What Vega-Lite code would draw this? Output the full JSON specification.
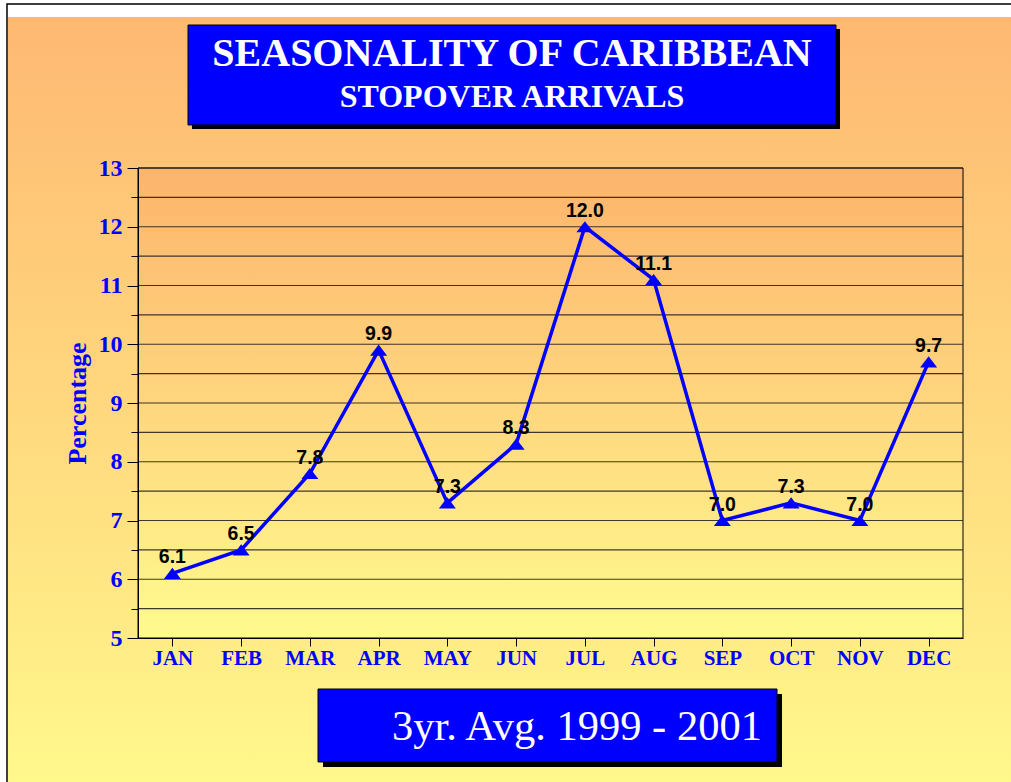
{
  "$schema": "https://vega.github.io/schema/vega-lite/v6.json",
  "width": 825,
  "height": 470,
  "autosize": {"type": "none"},
  "padding": {"left": 138, "top": 168, "right": 48, "bottom": 144},
  "background": "white",
  "config": {"view": {"stroke": null}},
  "datasets": {
    "arrivals": [
      {"month": "JAN", "value": 6.1},
      {"month": "FEB", "value": 6.5},
      {"month": "MAR", "value": 7.8},
      {"month": "APR", "value": 9.9},
      {"month": "MAY", "value": 7.3},
      {"month": "JUN", "value": 8.3},
      {"month": "JUL", "value": 12.0},
      {"month": "AUG", "value": 11.1},
      {"month": "SEP", "value": 7.0},
      {"month": "OCT", "value": 7.3},
      {"month": "NOV", "value": 7.0},
      {"month": "DEC", "value": 9.7}
    ],
    "grid": [
      {"y": 5.5}, {"y": 6}, {"y": 6.5}, {"y": 7}, {"y": 7.5}, {"y": 8}, {"y": 8.5},
      {"y": 9}, {"y": 9.5}, {"y": 10}, {"y": 10.5}, {"y": 11}, {"y": 11.5},
      {"y": 12}, {"y": 12.5}, {"y": 13}
    ]
  },
  "layer": [
    {
      "data": {"values": [{}]},
      "mark": {"type": "rect", "fill": "white", "stroke": "black", "strokeWidth": 1.5},
      "encoding": {
        "x": {"datum": -1.4055, "type": "quantitative", "scale": {"domain": [0.5, 12.5], "nice": false, "zero": false}, "axis": null},
        "x2": {"datum": 13.6},
        "y": {"datum": 15.791, "type": "quantitative", "scale": {"domain": [5, 13], "nice": false, "zero": false}, "axis": null},
        "y2": {"datum": 2.2}
      }
    },
    {
      "data": {"values": [{}]},
      "mark": {"type": "rect", "fill": {"gradient": "linear", "x1": 0, "y1": 0, "x2": 0, "y2": 1, "stops": [{"offset": 0, "color": "#FEB872"}, {"offset": 0.5, "color": "#FFD87E"}, {"offset": 1, "color": "#FFFA8C"}]}},
      "encoding": {
        "x": {"datum": -1.391, "type": "quantitative", "scale": {"domain": [0.5, 12.5], "nice": false, "zero": false}, "axis": null},
        "x2": {"datum": 13.6},
        "y": {"datum": 15.57, "type": "quantitative", "scale": {"domain": [5, 13], "nice": false, "zero": false}, "axis": null},
        "y2": {"datum": 2.2}
      }
    },
    {
      "data": {"values": [{}]},
      "mark": {"type": "rect", "fill": "black"},
      "encoding": {
        "x": {"datum": 1.2855, "type": "quantitative", "scale": {"domain": [0.5, 12.5], "nice": false, "zero": false}, "axis": null},
        "x2": {"datum": 10.7109},
        "y": {"datum": 15.366, "type": "quantitative", "scale": {"domain": [5, 13], "nice": false, "zero": false}, "axis": null},
        "y2": {"datum": 13.664}
      }
    },
    {
      "data": {"values": [{}]},
      "mark": {"type": "rect", "fill": "#0000FF", "stroke": "black", "strokeWidth": 1},
      "encoding": {
        "x": {"datum": 1.2273, "type": "quantitative", "scale": {"domain": [0.5, 12.5], "nice": false, "zero": false}, "axis": null},
        "x2": {"datum": 10.6527},
        "y": {"datum": 15.434, "type": "quantitative", "scale": {"domain": [5, 13], "nice": false, "zero": false}, "axis": null},
        "y2": {"datum": 13.732}
      }
    },
    {
      "data": {"values": [{}]},
      "mark": {"type": "text", "text": "SEASONALITY OF CARIBBEAN", "font": "Liberation Serif", "fontWeight": "bold", "fontSize": 40, "color": "white", "align": "center", "baseline": "alphabetic"},
      "encoding": {
        "x": {"datum": 5.94, "type": "quantitative", "scale": {"domain": [0.5, 12.5], "nice": false, "zero": false}, "axis": null},
        "y": {"datum": 14.736, "type": "quantitative", "scale": {"domain": [5, 13], "nice": false, "zero": false}, "axis": null}
      }
    },
    {
      "data": {"values": [{}]},
      "mark": {"type": "text", "text": "STOPOVER ARRIVALS", "font": "Liberation Serif", "fontWeight": "bold", "fontSize": 32, "color": "white", "align": "center", "baseline": "alphabetic"},
      "encoding": {
        "x": {"datum": 5.94, "type": "quantitative", "scale": {"domain": [0.5, 12.5], "nice": false, "zero": false}, "axis": null},
        "y": {"datum": 14.038, "type": "quantitative", "scale": {"domain": [5, 13], "nice": false, "zero": false}, "axis": null}
      }
    },
    {
      "data": {"values": [{}]},
      "mark": {"type": "rect", "fill": "black"},
      "encoding": {
        "x": {"datum": 3.1909, "type": "quantitative", "scale": {"domain": [0.5, 12.5], "nice": false, "zero": false}, "axis": null},
        "x2": {"datum": 9.8673},
        "y": {"datum": 4.0468, "type": "quantitative", "scale": {"domain": [5, 13], "nice": false, "zero": false}, "axis": null},
        "y2": {"datum": 2.8043}
      }
    },
    {
      "data": {"values": [{}]},
      "mark": {"type": "rect", "fill": "#0000FF", "stroke": "black", "strokeWidth": 1},
      "encoding": {
        "x": {"datum": 3.1182, "type": "quantitative", "scale": {"domain": [0.5, 12.5], "nice": false, "zero": false}, "axis": null},
        "x2": {"datum": 9.7945},
        "y": {"datum": 4.1319, "type": "quantitative", "scale": {"domain": [5, 13], "nice": false, "zero": false}, "axis": null},
        "y2": {"datum": 2.8894}
      }
    },
    {
      "data": {"values": [{}]},
      "mark": {"type": "text", "text": "3yr. Avg. 1999 - 2001", "font": "Liberation Serif", "fontSize": 42.5, "color": "white", "align": "left", "baseline": "alphabetic"},
      "encoding": {
        "x": {"datum": 4.1945, "type": "quantitative", "scale": {"domain": [0.5, 12.5], "nice": false, "zero": false}, "axis": null},
        "y": {"datum": 3.2638, "type": "quantitative", "scale": {"domain": [5, 13], "nice": false, "zero": false}, "axis": null}
      }
    },
    {
      "data": {"values": [{}]},
      "mark": {"type": "rect", "stroke": "black", "strokeWidth": 1, "fill": {"gradient": "linear", "x1": 0, "y1": 0, "x2": 0, "y2": 1, "stops": [{"offset": 0, "color": "#FDB46C"}, {"offset": 0.5, "color": "#FED67E"}, {"offset": 1, "color": "#FFFB8E"}]}},
      "encoding": {
        "x": {"datum": 0.5, "type": "quantitative", "scale": {"domain": [0.5, 12.5], "nice": false, "zero": false}, "axis": null},
        "x2": {"datum": 12.5},
        "y": {"datum": 5, "type": "quantitative", "scale": {"domain": [5, 13], "nice": false, "zero": false}, "axis": null},
        "y2": {"datum": 13}
      }
    },
    {
      "data": {"name": "grid"},
      "mark": {"type": "rule", "color": "#1a1a1a", "strokeWidth": 1.2, "opacity": 0.85},
      "encoding": {
        "y": {"field": "y", "type": "quantitative", "scale": {"domain": [5, 13], "nice": false, "zero": false}, "axis": null}
      }
    },
    {
      "data": {"name": "arrivals"},
      "encoding": {
        "x": {
          "field": "month", "type": "ordinal", "sort": null,
          "axis": {
            "orient": "bottom", "title": null, "labelAngle": 0, "zindex": 1,
            "labelFont": "Liberation Serif", "labelFontWeight": "bold", "labelFontSize": 21, "labelColor": "#0000FF",
            "labelPadding": 1, "tickSize": 8, "tickColor": "black", "tickWidth": 1,
            "domainColor": "black", "domainWidth": 1, "grid": false
          }
        },
        "y": {
          "field": "value", "type": "quantitative",
          "scale": {"domain": [5, 13], "nice": false, "zero": false},
          "axis": {
            "orient": "left", "title": "Percentage", "zindex": 1, "grid": false,
            "values": [5, 5.5, 6, 6.5, 7, 7.5, 8, 8.5, 9, 9.5, 10, 10.5, 11, 11.5, 12, 12.5, 13],
            "labelExpr": "datum.value % 1 === 0 ? format(datum.value, 'd') : ''",
            "tickSize": {"condition": {"test": "datum.value % 1 === 0", "value": 11}, "value": 7},
            "tickColor": "black", "tickWidth": 1, "domainColor": "black", "domainWidth": 1,
            "labelFont": "Liberation Serif", "labelFontWeight": "bold", "labelFontSize": 24, "labelColor": "#0000FF",
            "labelPadding": 5,
            "titleFont": "Liberation Serif", "titleFontWeight": "bold", "titleFontSize": 26, "titleColor": "#0000FF",
            "titlePadding": 8
          }
        }
      },
      "layer": [
        {"mark": {"type": "line", "color": "#0000FF", "strokeWidth": 3.5}},
        {"mark": {"type": "point", "shape": "M0,-0.65L1,0.65L-1,0.65Z", "size": 289, "filled": true, "color": "#0000FF", "opacity": 1}},
        {
          "mark": {"type": "text", "font": "Liberation Sans", "fontWeight": "bold", "fontSize": 19.5, "color": "black", "baseline": "alphabetic", "dy": -10},
          "encoding": {"text": {"field": "value", "type": "quantitative", "format": ".1f"}}
        }
      ]
    }
  ],
  "resolve": {"scale": {"x": "independent", "y": "independent"}}
}
